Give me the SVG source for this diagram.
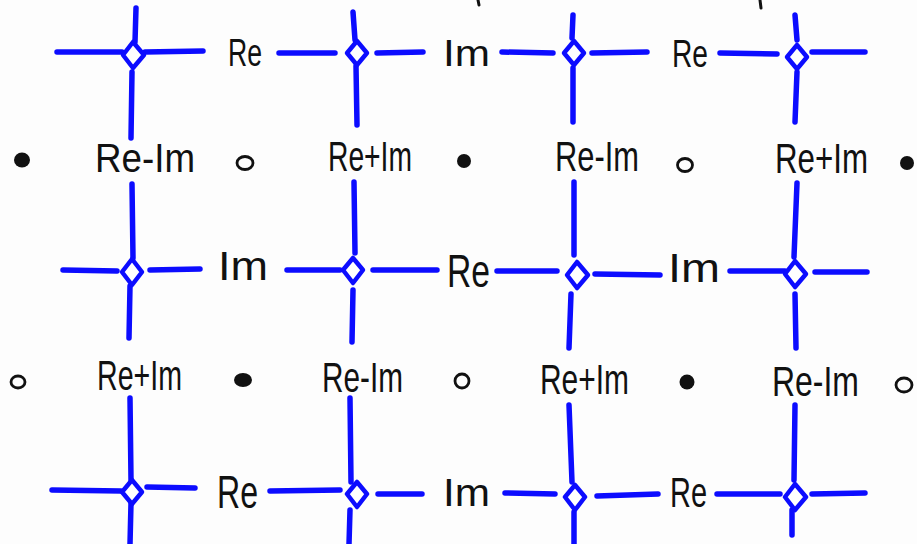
<svg xmlns="http://www.w3.org/2000/svg" width="917" height="544" viewBox="0 0 917 544">
<style>
.ln{stroke:#0c0cff;stroke-width:5.5;stroke-linecap:round;fill:none}
.dm{stroke:#0c0cff;stroke-width:4.5;fill:#fff;stroke-linejoin:round}
.lb{font-family:"Liberation Sans","DejaVu Sans",sans-serif;fill:#111}
.f{fill:#111}
.o{fill:none;stroke:#111;stroke-width:2.8}
</style>
<rect width="917" height="544" fill="#fdfdfd"/>
<path d="M478 0 L479 5 M760 0 L761 8" stroke="#111" stroke-width="3" stroke-linecap="round"/>
<g id="connectors">
  <path class="ln" d="M136 8 L135 42 M132 72 L131 138 M132 184 L133 258 M130 286 L129 338 M130 398 L131 480 M131 503 L130 544"/>
  <path class="ln" d="M353 12 L355 40 M356 66 L357 125 M354 182 L355 253 M353 290 L352 342 M350 398 L351 482 M350 510 L349 544"/>
  <path class="ln" d="M573 15 L572 38 M573 68 L573 122 M574 182 L574 255 M571 294 L569 348 M569 405 L572 482 M574 512 L574 544"/>
  <path class="ln" d="M795 15 L797 40 M797 72 L795 122 M797 183 L794 257 M795 294 L796 348 M795 405 L794 480 M792 510 L792 535"/>
  <path class="ln" d="M57 52 L122 52 M145 52 L203 51 M279 53 L335 53 M377 53 L423 52 M502 52 L553 53 M592 53 L647 52 M720 53 L777 54 M812 52 L865 52"/>
  <path class="ln" d="M63 270 L117 271 M150 270 L200 269 M287 270 L340 270 M373 270 L437 270 M497 271 L557 271 M595 274 L660 275 M730 271 L785 271 M815 272 L867 272"/>
  <path class="ln" d="M52 490 L121 491 M147 487 L195 488 M270 491 L340 490 M378 494 L422 494 M505 493 L555 494 M597 496 L658 494 M717 494 L780 494 M812 494 L865 493"/>
</g>
<g id="nodes">
  <g id="d11"><path class="dm" d="M133 42 L144 55 L133 68 L123 55 Z"/></g>
  <g id="d12"><path class="dm" d="M357 41 L367 53 L357 65 L347 53 Z"/></g>
  <g id="d13"><path class="dm" d="M574 41 L584 53 L574 65 L564 53 Z"/></g>
  <g id="d14"><path class="dm" d="M797 45 L807 57 L797 69 L787 57 Z"/></g>
  <g id="d31"><path class="dm" d="M132 259 L142 272 L132 285 L122 272 Z"/></g>
  <g id="d32"><path class="dm" d="M353 258 L363 270 L353 283 L343 270 Z"/></g>
  <g id="d33"><path class="dm" d="M577 262 L588 275 L577 288 L567 275 Z"/></g>
  <g id="d34"><path class="dm" d="M795 261 L806 274 L795 287 L785 274 Z"/></g>
  <g id="d51"><path class="dm" d="M132 480 L142 492 L132 504 L122 492 Z"/></g>
  <g id="d52"><path class="dm" d="M357 482 L367 494 L357 507 L347 494 Z"/></g>
  <g id="d53"><path class="dm" d="M575 485 L585 497 L575 510 L565 497 Z"/></g>
  <g id="d54"><path class="dm" d="M795 484 L806 497 L795 510 L785 497 Z"/></g>

  <g id="l11"><text class="lb" x="228" y="66" font-size="38" textLength="34" lengthAdjust="spacingAndGlyphs">Re</text></g>
  <g id="l12"><text class="lb" x="443" y="66" font-size="36" textLength="47" lengthAdjust="spacingAndGlyphs">Im</text></g>
  <g id="l13"><text class="lb" x="672" y="67" font-size="38" textLength="36" lengthAdjust="spacingAndGlyphs">Re</text></g>

  <g id="l21"><text class="lb" x="95" y="172" font-size="41" textLength="100" lengthAdjust="spacingAndGlyphs">Re-Im</text></g>
  <g id="l22"><text class="lb" x="328" y="171" font-size="42" textLength="84" lengthAdjust="spacingAndGlyphs">Re+Im</text></g>
  <g id="l23"><text class="lb" x="555" y="171" font-size="42" textLength="84" lengthAdjust="spacingAndGlyphs">Re-Im</text></g>
  <g id="l24"><text class="lb" x="775" y="173" font-size="42" textLength="93" lengthAdjust="spacingAndGlyphs">Re+Im</text></g>

  <g id="l31"><text class="lb" x="218" y="280" font-size="40" textLength="50" lengthAdjust="spacingAndGlyphs">Im</text></g>
  <g id="l32"><text class="lb" x="447" y="287" font-size="46" textLength="43" lengthAdjust="spacingAndGlyphs">Re</text></g>
  <g id="l33"><text class="lb" x="668" y="282" font-size="40" textLength="52" lengthAdjust="spacingAndGlyphs">Im</text></g>

  <g id="l41"><text class="lb" x="97" y="390" font-size="42" textLength="85" lengthAdjust="spacingAndGlyphs">Re+Im</text></g>
  <g id="l42"><text class="lb" x="322" y="392" font-size="42" textLength="81" lengthAdjust="spacingAndGlyphs">Re-Im</text></g>
  <g id="l43"><text class="lb" x="540" y="394" font-size="42" textLength="89" lengthAdjust="spacingAndGlyphs">Re+Im</text></g>
  <g id="l44"><text class="lb" x="772" y="396" font-size="42" textLength="87" lengthAdjust="spacingAndGlyphs">Re-Im</text></g>

  <g id="l51"><text class="lb" x="217" y="508" font-size="46" textLength="41" lengthAdjust="spacingAndGlyphs">Re</text></g>
  <g id="l52"><text class="lb" x="443" y="506" font-size="38" textLength="47" lengthAdjust="spacingAndGlyphs">Im</text></g>
  <g id="l53"><text class="lb" x="670" y="507" font-size="42" textLength="37" lengthAdjust="spacingAndGlyphs">Re</text></g>

  <g id="p21"><ellipse class="f" cx="22" cy="160" rx="8" ry="7.5"/></g>
  <g id="p22"><ellipse class="o" cx="245" cy="163" rx="8" ry="6.5"/></g>
  <g id="p23"><ellipse class="f" cx="464" cy="161" rx="7" ry="7"/></g>
  <g id="p24"><ellipse class="o" cx="685" cy="165" rx="7.5" ry="6.5"/></g>
  <g id="p25"><ellipse class="f" cx="907" cy="163" rx="7" ry="7"/></g>
  <g id="p41"><ellipse class="o" cx="18" cy="382" rx="7" ry="6"/></g>
  <g id="p42"><ellipse class="f" cx="243" cy="380" rx="9" ry="7"/></g>
  <g id="p43"><ellipse class="o" cx="462" cy="381" rx="7" ry="7"/></g>
  <g id="p44"><ellipse class="f" cx="687" cy="382" rx="7.5" ry="7.5"/></g>
  <g id="p45"><ellipse class="o" cx="904" cy="385" rx="8" ry="7"/></g>
</g>
</svg>
